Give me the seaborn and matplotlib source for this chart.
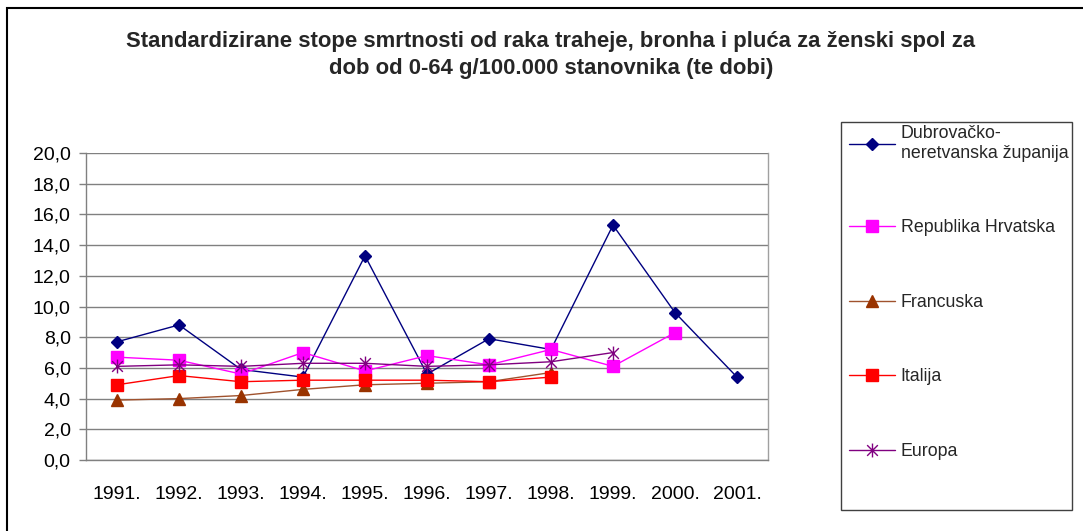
import numpy as np
import pandas as pd
import matplotlib
matplotlib.use("Agg")
import matplotlib.pyplot as plt
import seaborn as sns
from matplotlib.path import Path
from matplotlib.patches import Rectangle
from matplotlib.ticker import FuncFormatter, FixedLocator

# ---------------- data ----------------
years = [1991, 1992, 1993, 1994, 1995, 1996, 1997, 1998, 1999, 2000, 2001]
year_labels = ["1991.", "1992.", "1993.", "1994.", "1995.", "1996.",
               "1997.", "1998.", "1999.", "2000.", "2001."]
nan = np.nan
dubrovacko = [7.7, 8.8, 5.9, 5.4, 13.3, 5.6, 7.9, 7.2, 15.3, 9.6, 5.4]
hrvatska = [6.7, 6.5, 5.6, 7.0, 5.8, 6.8, 6.2, 7.2, 6.1, 8.3, nan]
francuska = [3.9, 4.0, 4.2, 4.6, 4.9, 5.0, 5.1, 5.7, nan, nan, nan]
italija = [4.9, 5.5, 5.1, 5.2, 5.2, 5.2, 5.1, 5.4, nan, nan, nan]
europa = [6.1, 6.2, 6.1, 6.3, 6.3, 6.1, 6.2, 6.4, 7.0, nan, nan]
series_names = ["Dubrovačko-\nneretvanska županija", "Republika Hrvatska",
                "Francuska", "Italija", "Europa"]
title = ("Standardizirane stope smrtnosti od raka traheje, bronha i pluća za ženski spol za\n"
         "dob od 0-64 g/100.000 stanovnika (te dobi)")

# ---------------- style ----------------
sns.set_theme(style="white")
plt.rcParams["font.family"] = ["Liberation Sans", "DejaVu Sans"]

asterisk = Path([(-1, -1), (1, 1), (-1, 1), (1, -1), (0, -1.3), (0, 1.3)],
                [Path.MOVETO, Path.LINETO, Path.MOVETO, Path.LINETO,
                 Path.MOVETO, Path.LINETO])

styles = [
    dict(color="#000080", mcolor="#000080", marker="D", ms=6.5),
    dict(color="#FF00FF", mcolor="#FF00FF", marker="s", ms=9),
    dict(color="#A0522D", mcolor="#993300", marker="^", ms=9),
    dict(color="#FF0000", mcolor="#FF0000", marker="s", ms=9),
    dict(color="#800080", mcolor="#800080", marker=asterisk, ms=10),
]

fig = plt.figure(figsize=(10.83, 5.31), dpi=100)
W, H = 1083, 531
ax = fig.add_axes([86 / W, 1 - 460 / H, (768 - 86) / W, (460 - 153) / H])

all_vals = [dubrovacko, hrvatska, francuska, italija, europa]
for name, vals, st in zip(series_names, all_vals, styles):
    df = pd.DataFrame({"year": years, "value": vals}).dropna()
    sns.lineplot(data=df, x="year", y="value", ax=ax, color=st["color"],
                 marker=st["marker"], markersize=st["ms"],
                 markerfacecolor=st["mcolor"], markeredgecolor=st["mcolor"],
                 markeredgewidth=1.0, linewidth=1.0, label=name, legend=False)

ax.set_xlim(years[0] - 0.5, years[-1] + 0.5)
ax.set_ylim(0, 20)
ax.set_yticks(np.arange(0, 20.1, 2))
ax.yaxis.set_major_formatter(FuncFormatter(lambda v, p: f"{v:.1f}".replace(".", ",")))
ax.set_xticks(years)
ax.set_xticklabels(year_labels)
ax.xaxis.set_minor_locator(FixedLocator([y - 0.5 for y in years] + [years[-1] + 0.5]))
ax.tick_params(axis="x", which="major", length=0, pad=19, labelsize=14, colors="black")
ax.tick_params(axis="x", which="minor", length=5, width=1, color="#808080", direction="out")
ax.tick_params(axis="y", which="major", length=5, width=1, color="#808080",
               direction="out", pad=6, labelsize=14, labelcolor="black", left=True)
ax.set_xlabel("")
ax.set_ylabel("")
ax.grid(axis="y", color="#808080", linewidth=1.0)
ax.grid(axis="x", visible=False)
ax.set_axisbelow(True)
for side in ["left", "bottom"]:
    ax.spines[side].set_color("#808080")
    ax.spines[side].set_linewidth(1.0)
ax.spines["right"].set_color("#A0A0A0")
ax.spines["right"].set_linewidth(1.0)
ax.spines["top"].set_visible(False)

# title
fig.text(551 / W, 1 - 55 / H, title, ha="center", va="center", fontsize=15.9,
         fontweight="bold", linespacing=1.42)

# outer frame
fig.patches.append(Rectangle((7 / W, -0.1), 1.2, 1 - 8 / H + 0.1, transform=fig.transFigure,
                             fill=False, edgecolor="black", linewidth=1.5))

# legend box
fig.patches.append(Rectangle((841 / W, 1 - 510 / H), (1072 - 841) / W, (510 - 122) / H,
                             transform=fig.transFigure, fill=False,
                             edgecolor="#404040", linewidth=1.0))

# legend
handles, labels = ax.get_legend_handles_labels()
leg = fig.legend(handles, labels, loc="upper left",
                 bbox_to_anchor=(849 / W, 1 - 125 / H), fontsize=12.8,
                 frameon=False, handlelength=2.6, handletextpad=0.3,
                 labelspacing=3.24, borderpad=0, borderaxespad=0)

fig.savefig("out.png", dpi=100, facecolor="white")
